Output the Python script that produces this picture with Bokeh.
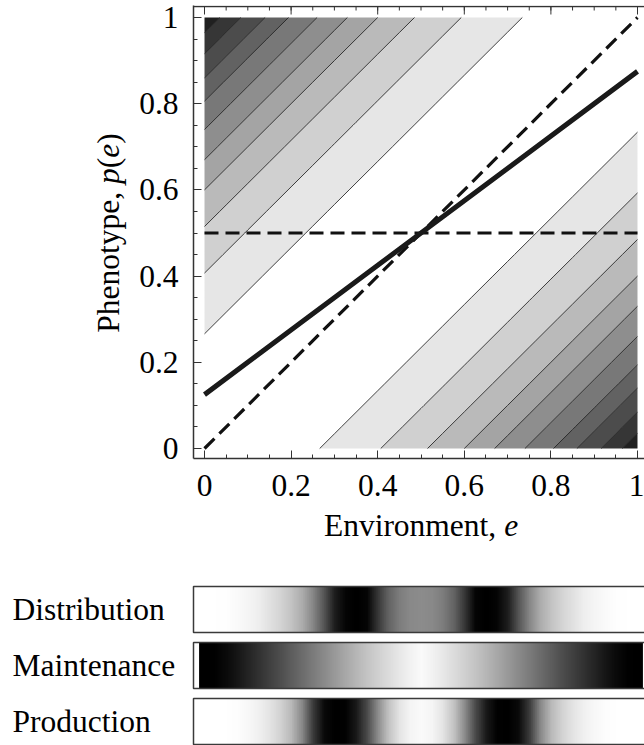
import base64
import struct
import zlib

import numpy as np
from bokeh.plotting import figure
from bokeh.models import Range1d, Span, FixedTicker
from bokeh.layouts import column, row
from bokeh.embed import file_html
from bokeh.resources import INLINE
from bokeh.core.properties import value

FONT = "Liberation Serif"
FS = "31.5px"
FSN = 31.5

# ---------------- data ----------------
tick_values = [0, 0.2, 0.4, 0.6, 0.8, 1]
tick_labels = ["0", "0.2", "0.4", "0.6", "0.8", "1"]
minor_tick_values = [0, 0.05, 0.1, 0.15, 0.2, 0.25, 0.3, 0.35, 0.4, 0.45, 0.5,
                     0.55, 0.6, 0.65, 0.7, 0.75, 0.8, 0.85, 0.9, 0.95, 1.0]

# contour lines lie at |p - e| = offset ; band gray levels from the white band outward
contour_offsets = [0.266, 0.407, 0.515, 0.600, 0.670, 0.740, 0.806, 0.860, 0.916, 0.965]
band_grays = [230, 208, 186, 164, 142, 120, 98, 76, 54, 32]

response_e = [0.0, 0.5, 1.0]
response_p = [0.125, 0.5, 0.875]
optimum_e = [0.0, 1.0]
optimum_p = [0.0, 1.0]
fixed_e = [0.0, 1.0]
fixed_p = [0.5, 0.5]

bar_names = ["Distribution", "Maintenance", "Production"]
bar_e = [0.0, 0.025, 0.05, 0.075, 0.1, 0.125, 0.15, 0.175, 0.2, 0.225, 0.25,
         0.275, 0.3, 0.325, 0.35, 0.375, 0.4, 0.425, 0.45, 0.475, 0.5,
         0.525, 0.55, 0.575, 0.6, 0.625, 0.65, 0.675, 0.7, 0.725, 0.75,
         0.775, 0.8, 0.825, 0.85, 0.875, 0.9, 0.925, 0.95, 0.975, 1.0]
distribution_gray = [255, 255, 254, 250, 245, 238, 225, 212, 195, 172, 135,
                     85, 30, 5, 0, 5, 55, 100, 125, 137, 140,
                     137, 125, 100, 55, 5, 0, 5, 30, 85, 135,
                     172, 195, 212, 225, 238, 245, 250, 254, 255, 255]
maintenance_gray = [0, 2, 10, 22, 36, 50, 64, 78, 93, 108, 123,
                    138, 153, 168, 182, 196, 208, 220, 232, 242, 250,
                    242, 232, 220, 208, 196, 182, 168, 153, 138, 123,
                    108, 93, 78, 64, 50, 36, 22, 10, 2, 0]
production_gray = [255, 255, 255, 253, 248, 240, 228, 210, 185, 135, 60,
                   10, 0, 2, 25, 75, 140, 195, 228, 245, 250,
                   245, 228, 195, 140, 75, 25, 2, 0, 10, 60,
                   135, 185, 210, 228, 240, 248, 253, 255, 255, 255]
bar_values = [distribution_gray, maintenance_gray, production_gray]

# ---------------- layout (page pixels) ----------------
X0, SX = 204.0, 433.0      # page x of e=0, px per unit
Y0, SY = 448.0, 431.0      # page y of p=0, px per unit
TOP_H = 504                # height of the upper row
YLAB_W = 130


def no_align(fig):
    try:
        fig.frame_align = False
    except Exception:
        pass


# ---- main contour plot ----
p = figure(width=644 - YLAB_W, height=TOP_H, output_backend="svg", toolbar_location=None,
           x_range=Range1d(-11 / SX, 1 + 7 / SX), y_range=Range1d(-10 / SY, 1 + 12 / SY),
           min_border_left=193 - YLAB_W, min_border_right=0, min_border_top=5,
           min_border_bottom=TOP_H - 458)
no_align(p)
p.grid.visible = False
p.outline_line_color = None

grid = np.linspace(0.0, 1.0, 21)
E, P = np.meshgrid(grid, grid)
Z = P - E
levels = [-1.01] + [-d for d in contour_offsets[::-1]] + contour_offsets + [1.01]
grays_hex = ["#%02x%02x%02x" % (g, g, g) for g in band_grays]
fills = grays_hex[::-1] + ["#ffffff"] + grays_hex
p.contour(E, P, Z, levels, fill_color=fills, line_color="#111111", line_width=0.8)

p.line(optimum_e, optimum_p, line_width=3.2, line_dash="14 7", color="#111111")
p.line(fixed_e, fixed_p, line_width=3.2, line_dash="14 7", color="#111111")
p.line(response_e, response_p, line_width=5, color="#1a1a1a")

ticker = FixedTicker(ticks=tick_values, minor_ticks=minor_tick_values)
overrides = {v: s for v, s in zip(tick_values, tick_labels)}
for ax in (p.xaxis[0], p.yaxis[0]):
    ax.ticker = ticker
    ax.major_tick_in = 8
    ax.major_tick_out = 0
    ax.minor_tick_in = 4
    ax.minor_tick_out = 0
    ax.axis_line_color = "#333333"
    ax.axis_line_width = 1.5
    ax.major_tick_line_color = "#333333"
    ax.minor_tick_line_color = "#333333"
    ax.major_label_overrides = overrides
    ax.major_label_text_font = FONT
    ax.major_label_text_font_size = FS
    ax.major_label_text_color = "black"
p.xaxis[0].major_label_standoff = 16
p.yaxis[0].major_label_standoff = 15

# top edge of the frame with inward ticks
top_y = 1 + 11 / SY
p.add_layout(Span(location=top_y, dimension="width", line_color="#333333", line_width=1.5))
p.segment(x0=tick_values, x1=tick_values, y0=[top_y] * len(tick_values),
          y1=[top_y - 8 / SY] * len(tick_values), line_color="#333333", line_width=1)
p.segment(x0=minor_tick_values, x1=minor_tick_values, y0=[top_y] * len(minor_tick_values),
          y1=[top_y - 4 / SY] * len(minor_tick_values), line_color="#333333", line_width=1)

# ---- rotated y label ----
ylab = figure(width=YLAB_W, height=TOP_H, output_backend="svg", toolbar_location=None,
              x_range=Range1d(0, YLAB_W), y_range=Range1d(0, TOP_H),
              x_axis_type=None, y_axis_type=None, min_border=0)
no_align(ylab)
ylab.grid.visible = False
ylab.outline_line_color = None
ypieces = [("Phenotype, ", "normal", 4.722), ("p", "italic", 0.5), ("(", "normal", 0.333),
           ("e", "italic", 0.444), (")", "normal", 0.333)]
Ystart = 232.5 + sum(w for _, _, w in ypieces) * FSN / 2
for txt, st, w in ypieces:
    ylab.text(x=[108], y=[TOP_H - Ystart], text=[txt], angle=np.pi / 2,
              text_align="left", text_baseline="middle",
              text_font=value(FONT), text_font_size=value(FS),
              text_font_style=st, text_color="black")
    Ystart -= w * FSN

# ---- x label and density bars ----
BOT_H = 745 - TOP_H
q = figure(width=644, height=BOT_H, output_backend="svg", toolbar_location=None,
           x_range=Range1d(-X0 / SX, (644 - X0) / SX), y_range=Range1d(0, BOT_H),
           x_axis_type=None, y_axis_type=None, min_border=0)
no_align(q)
q.grid.visible = False
q.outline_line_color = None

xpieces = [("Environment, ", "normal", 5.722), ("e", "italic", 0.444)]
Xstart = (X0 + 0.5 * SX) - sum(w for _, _, w in xpieces) * FSN / 2
for txt, st, w in xpieces:
    q.text(x=[(Xstart - X0) / SX], y=[745 - 525], text=[txt],
           text_align="left", text_baseline="middle",
           text_font=value(FONT), text_font_size=value(FS),
           text_font_style=st, text_color="black")
    Xstart += w * FSN


def gray_png(vals):
    raw = b"\x00" + bytes(int(v) for v in vals)

    def chunk(tag, data):
        body = tag + data
        return struct.pack(">I", len(data)) + body + struct.pack(">I", zlib.crc32(body) & 0xFFFFFFFF)

    ihdr = struct.pack(">IIBBBBB", len(vals), 1, 8, 0, 0, 0, 0)
    png = (b"\x89PNG\r\n\x1a\n" + chunk(b"IHDR", ihdr) +
           chunk(b"IDAT", zlib.compress(raw)) + chunk(b"IEND", b""))
    return "data:image/png;base64," + base64.b64encode(png).decode()


bar_h, pitch = 46, 56
step = bar_e[1] - bar_e[0]
bottoms = [1 + (len(bar_names) - 1 - k) * pitch for k in range(len(bar_names))]
for k, vals in enumerate(bar_values):
    q.image_url(url=[gray_png(vals)], x=bar_e[0] - step / 2, y=bottoms[k],
                w=bar_e[-1] - bar_e[0] + step, h=bar_h, anchor="bottom_left")
q.quad(left=-11 / SX, right=1 + 11 / SX, bottom=bottoms, top=[b + bar_h for b in bottoms],
       fill_color=None, line_color="#3a3a3a", line_width=1.5)
q.text(x=[(12 - X0) / SX] * 3, y=[b + bar_h / 2 for b in bottoms], text=bar_names,
       text_font=value(FONT), text_font_size=value(FS), text_baseline="middle",
       text_align="left", text_color="black")

layout = column(row(ylab, p, spacing=0), q, spacing=0)
open("out.html", "w").write(file_html(layout, INLINE))
